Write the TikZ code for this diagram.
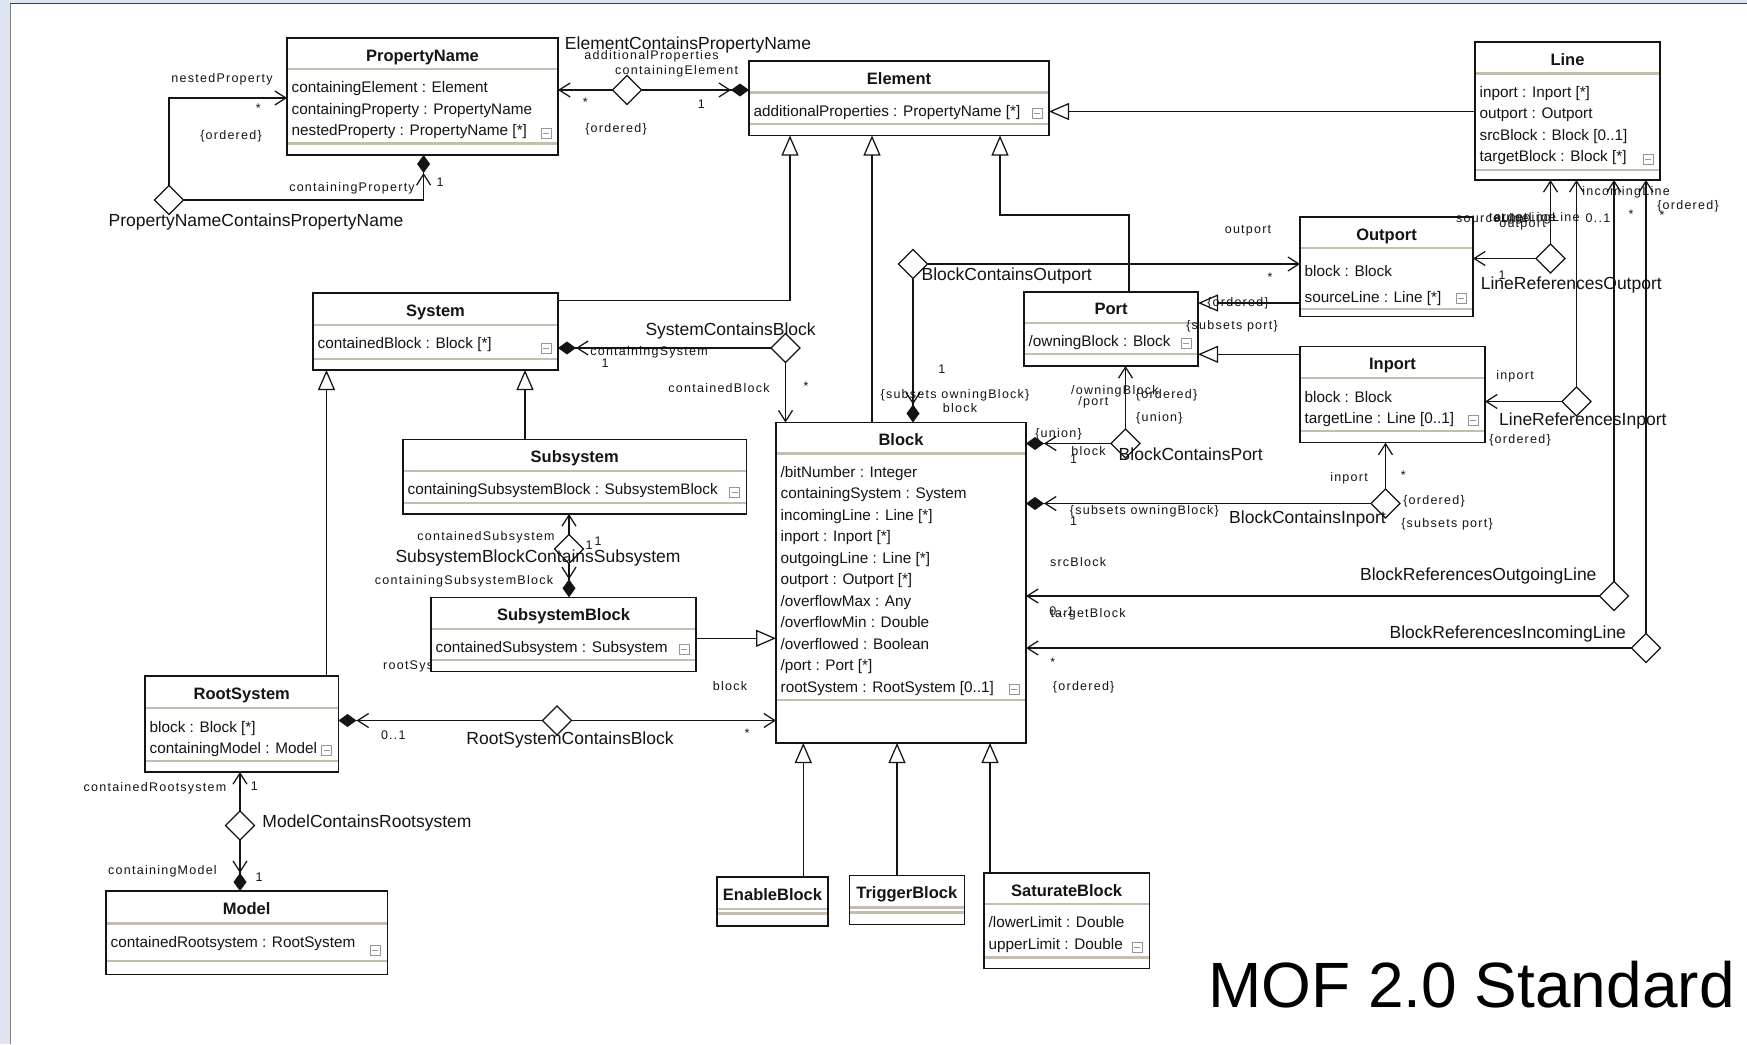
\documentclass[tikz,border=0pt]{standalone}
\usepackage{fontspec}
\setmainfont{Liberation Sans}
\newfontfamily\rolefont[LetterSpace=10]{Liberation Sans}
\usetikzlibrary{arrows.meta,shapes.geometric}

\definecolor{bgblue}{RGB}{222,228,240}
\definecolor{framec}{RGB}{60,64,72}
\definecolor{sepc}{RGB}{196,189,176}
\definecolor{iconc}{RGB}{150,150,150}
\definecolor{ink}{RGB}{20,20,20}

\newcommand\clsrowgap{21.5}
\newcommand\clsfirstgap{18.5}

% small collapse box drawn at the end of an attribute compartment
\newcommand\collapseicon[2]{%
  \draw[iconbox] ({#1-5},{#2-5}) rectangle ({#1+5},{#2+5});
  \draw[draw=iconc, line width=0.9pt] ({#1-3},{#2}) -- ({#1+3},{#2});
}

% class box: name, left, top, right, bottom, header rule, operation rule, title, attributes
\newcommand\umlclass[9]{%
  \node[classbox, minimum width={(#4-#2)*1pt}, minimum height={(#5-#3)*1pt}] (#1) at (#2,#3) {};
  \draw[sepline] ({#2+0.8},{#6}) -- ({#4-0.8},{#6});
  \draw[sepline] ({#2+0.8},{#7}) -- ({#4-0.8},{#7});
  \node[classtitle] at ({(#2+#4)/2},{(#3+#6)/2+7.5}) {#8};
  \foreach \a [count=\i from 0] in {#9} {
    \node[attr] at ({#2+4.5},{#6+\clsfirstgap+5.3+\clsrowgap*\i}) {\a};
  }
  \collapseicon{#4-12}{#7-10.5}
}

% class box without attributes
\newcommand\umlempty[8]{%
  \node[classbox, minimum width={(#4-#2)*1pt}, minimum height={(#5-#3)*1pt}] (#1) at (#2,#3) {};
  \draw[sepline] ({#2+0.8},{#6}) -- ({#4-0.8},{#6});
  \draw[sepline] ({#2+0.8},{#7}) -- ({#4-0.8},{#7});
  \node[classtitle] at ({(#2+#4)/2},{(#3+#6)/2+7.5}) {#8};
}

\tikzset{
  classbox/.style={draw=ink, line width=1.5pt, fill=white, inner sep=0pt, outer sep=0pt, anchor=north west},
  sepline/.style={draw=sepc, line width=2.2pt},
  classtitle/.style={font=\fontsize{16.5}{18}\selectfont\bfseries, anchor=base, inner sep=0pt, text=ink},
  attr/.style={font=\fontsize{15.3}{18}\selectfont, anchor=base west, inner sep=0pt, text=ink},
  assoc/.style={shape=diamond, draw=ink, fill=white, line width=1.2pt, minimum width=29pt, minimum height=29pt, inner sep=0pt, outer sep=0pt},
  conn/.style={draw=ink, line width=1.25pt},
  nav/.style={conn, -{Straight Barb[length=11pt,width=14pt]}},
  comp/.style={conn, -{Straight Barb[length=11pt,width=14pt]Diamond[length=18pt,width=13pt]}},
  gen/.style={conn, line join=miter, -{Triangle[length=20pt,width=17pt,fill=white]}},
  lbl/.style={font=\rolefont\fontsize{12.5}{14}\selectfont, inner sep=0pt, text=ink},
  aname/.style={font=\fontsize{17.5}{20}\selectfont, inner sep=0pt, text=ink},
  iconbox/.style={draw=iconc, fill=white, line width=0.8pt},
}

\begin{document}
\begin{tikzpicture}[x=1pt,y=-1pt]
\useasboundingbox (0,0) rectangle (1747,1044);

% window frame
\fill[bgblue] (0,0) rectangle (1747,1044);
\fill[white] (10,4) rectangle (1747,1044);
\draw[framec, line width=1.6pt] (10,3.5) -- (1747,3.5);
\draw[gray, line width=1pt] (10,3.5) -- (10,1044);

% role name partly hidden behind SubsystemBlock
\node[lbl, anchor=west] at (383,666.7) {rootSystem};

% ---------------- classes ----------------
\umlclass{PropertyName}{287}{38}{558}{155}{69}{143.5}{PropertyName}{containingElement : Element, containingProperty : PropertyName, nestedProperty : PropertyName [*]}
\umlclass{Element}{749}{61}{1049}{135.5}{92.5}{124}{Element}{additionalProperties : PropertyName [*]}
\umlclass{Line}{1475}{42}{1660}{180}{73.5}{170}{Line}{inport : Inport [*], outport : Outport, srcBlock : Block [0..1], targetBlock : Block [*]}
\renewcommand\clsrowgap{26}\renewcommand\clsfirstgap{22.7}
\umlclass{Outport}{1300}{217}{1473}{316.5}{248}{309}{Outport}{block : Block, sourceLine : Line [*]}
\renewcommand\clsrowgap{21.5}\renewcommand\clsfirstgap{18.5}
\umlclass{Port}{1024}{292}{1198}{366}{322.7}{354.3}{Port}{/owningBlock : Block}
\umlclass{Inport}{1300}{346.5}{1485}{442.7}{378.3}{430.7}{Inport}{block : Block, targetLine : Line [0..1]}
\umlclass{System}{313}{293}{558}{370}{325}{359.3}{System}{containedBlock : Block [*]}
\umlclass{Subsystem}{403}{439.3}{746.5}{514}{471}{503.3}{Subsystem}{containingSubsystemBlock : SubsystemBlock}
\umlclass{SubsystemBlock}{431}{597.3}{696}{671.7}{629}{660}{SubsystemBlock}{containedSubsystem : Subsystem}
\umlclass{Block}{776}{422.5}{1026}{743}{453.5}{700}{Block}{/bitNumber : Integer, containingSystem : System, incomingLine : Line [*], inport : Inport [*], outgoingLine : Line [*], outport : Outport [*], /overflowMax : Any, /overflowMin : Double, /overflowed : Boolean, /port : Port [*], rootSystem : RootSystem [0..1]}
\umlclass{RootSystem}{145}{676}{338.5}{772}{708.3}{760.7}{RootSystem}{block : Block [*], containingModel : Model}
\umlclass{Model}{106}{891}{387.3}{974.3}{923.5}{961}{Model}{containedRootsystem : RootSystem}
\umlempty{EnableBlock}{717}{877}{828}{926}{909}{913.5}{EnableBlock}
\umlempty{TriggerBlock}{849.3}{875.3}{964.3}{924.3}{907.5}{912.5}{TriggerBlock}
\umlclass{SaturateBlock}{984}{873}{1149.3}{968.7}{904}{957.5}{SaturateBlock}{/lowerLimit : Double, upperLimit : Double}

% ---------------- generalizations ----------------
\draw[gen] (Line.west |- 0,111.5) -- (Element.east |- 0,111.5);
\draw[gen] (System.east |- 0,300.5) -| (Element.south -| 790,0);
\draw[gen] (Block.north -| 872,0) -- (Element.south -| 872,0);
\draw[gen] (Port.north -| 1129,0) |- (1000,215) -- (Element.south -| 1000,0);
\draw[gen] (RootSystem.north -| 326.5,0) -- (System.south -| 326.5,0);
\draw[gen] (Subsystem.north -| 525,0) -- (System.south -| 525,0);
\draw[gen] (Outport.west |- 0,303) -- (Port.east |- 0,303);
\draw[gen] (Inport.west |- 0,354.3) -- (Port.east |- 0,354.3);
\draw[gen] (SubsystemBlock.east |- 0,638.3) -- (Block.west |- 0,638.3);
\draw[gen] (EnableBlock.north -| 803.3,0) -- (Block.south -| 803.3,0);
\draw[gen] (TriggerBlock.north -| 897,0) -- (Block.south -| 897,0);
\draw[gen] (SaturateBlock.north -| 990,0) -- (Block.south -| 990,0);

% ---------------- associations ----------------
\node[assoc] (pnpn) at (169,200) {};
\draw[nav] (pnpn.north) |- (PropertyName.west |- 0,98);
\draw[comp] (pnpn.east) -| (PropertyName.south -| 423.6,0);

\node[assoc] (ecpn) at (627,90) {};
\draw[nav] (ecpn.west) -- (PropertyName.east |- ecpn.west);
\draw[comp] (ecpn.east) -- (Element.west |- ecpn.east);

\node[assoc] (scb) at (785.5,348) {};
\draw[comp] (scb.west) -- (System.east |- scb.west);
\draw[nav] (scb.south) -- (Block.north -| scb.south);

\node[assoc] (bco) at (913,264) {};
\draw[nav] (bco.east) -- (Outport.west |- bco.east);
\draw[comp] (bco.south) -- (Block.north -| bco.south);

\node[assoc] (bcp) at (1125.5,443.5) {};
\draw[nav] (bcp.north) -- (Port.south -| bcp.north);
\draw[comp] (bcp.west) -- (Block.east |- bcp.west);

\node[assoc] (bci) at (1385.5,503.5) {};
\draw[nav] (bci.north) -- (Inport.south -| bci.north);
\draw[comp] (bci.west) -- (Block.east |- bci.west);

\node[assoc] (lro) at (1550.5,258.5) {};
\draw[nav] (lro.west) -- (Outport.east |- lro.west);
\draw[nav] (lro.north) -- (Line.south -| lro.north);

\node[assoc] (lri) at (1576.5,401.5) {};
\draw[nav] (lri.west) -- (Inport.east |- lri.west);
\draw[nav] (lri.north) -- (Line.south -| lri.north);

\node[assoc] (bro) at (1614,596) {};
\draw[nav] (bro.west) -- (Block.east |- bro.west);
\draw[nav] (bro.north) -- (Line.south -| bro.north);

\node[assoc] (bri) at (1646,648) {};
\draw[nav] (bri.west) -- (Block.east |- bri.west);
\draw[nav] (bri.north) -- (Line.south -| bri.north);

\node[assoc] (sbcs) at (569,549) {};
\draw[nav] (sbcs.north) -- (Subsystem.south -| sbcs.north);
\draw[comp] (sbcs.south) -- (SubsystemBlock.north -| sbcs.south);

\node[assoc] (rscb) at (557,720.5) {};
\draw[comp] (rscb.west) -- (RootSystem.east |- rscb.west);
\draw[nav] (rscb.east) -- (Block.west |- rscb.east);

\node[assoc] (mcr) at (240,825.5) {};
\draw[nav] (mcr.north) -- (RootSystem.south -| mcr.north);
\draw[comp] (mcr.south) -- (Model.north -| mcr.south);

% ---------------- labels ----------------
\node[lbl] at (222,79.3) {nestedProperty};
\node[lbl] at (258.3,108.3) {*};
\node[lbl] at (231,136) {\{ordered\}};
\node[lbl] at (352,188.3) {containingProperty};
\node[lbl] at (440,181.7) {1};
\node[aname] at (256,221.7) {PropertyNameContainsPropertyName};

\node[aname] at (688,45) {ElementContainsPropertyName};
\node[lbl] at (651.6,56) {additionalProperties};
\node[lbl] at (676.6,71.7) {containingElement};
\node[lbl] at (585.4,101.7) {*};
\node[lbl] at (701.4,104) {1};
\node[lbl] at (616,129.3) {\{ordered\}};

\node[aname] at (730.6,330.7) {SystemContainsBlock};
\node[lbl] at (649,352.7) {containingSystem};
\node[lbl] at (605,363.3) {1};
\node[lbl] at (719,388.3) {containedBlock};
\node[lbl] at (806,385.7) {*};

\node[aname] at (1006.7,276) {BlockContainsOutport};
\node[lbl] at (1248,230.7) {outport};
\node[lbl] at (1270,277) {*};
\node[lbl] at (941.8,369.3) {1};
\node[lbl] at (955,395.7) {\{subsets owningBlock\}};
\node[lbl] at (960,408) {block};

\node[lbl] at (1238,303.5) {\{ordered\}};
\node[lbl] at (1232,326.5) {\{subsets port\}};

\node[lbl] at (1114.8,391.7) {/owningBlock};
\node[lbl] at (1093.4,402.7) {/port};
\node[lbl] at (1166.6,395) {\{ordered\}};
\node[lbl] at (1159.4,418.3) {\{union\}};
\node[lbl] at (1058.5,434) {\{union\}};
\node[lbl] at (1088.4,451.5) {block};
\node[lbl] at (1073.5,459.3) {1};
\node[aname] at (1190.7,454) {BlockContainsPort};

\node[lbl] at (1349,478.3) {inport};
\node[lbl] at (1403.3,475) {*};
\node[lbl] at (1434,501.7) {\{ordered\}};
\node[lbl] at (1447,524.3) {\{subsets port\}};
\node[lbl] at (1144.3,511.7) {\{subsets owningBlock\}};
\node[lbl] at (1073.5,520.7) {1};
\node[aname] at (1307.5,519) {BlockContainsInport};

\node[lbl] at (1502,275) {1};
\node[aname] at (1571.3,285) {LineReferencesOutport};

\node[lbl] at (1515,376.7) {inport};
\node[lbl] at (1520,440) {\{ordered\}};
\node[aname] at (1582.8,420.7) {LineReferencesInport};

\node[lbl] at (1078,561.7) {srcBlock};
\node[lbl] at (1061.7,611) {0..1};
\node[aname] at (1478.3,576) {BlockReferencesOutgoingLine};

\node[lbl] at (1088,614.3) {targetBlock};
\node[lbl] at (1052.7,661.7) {*};
\node[lbl] at (1083.7,687.7) {\{ordered\}};
\node[aname] at (1507.8,634) {BlockReferencesIncomingLine};

\node[lbl, anchor=west] at (1456,218) {sourceLine};
\node[lbl, anchor=west] at (1489,218) {targetLine};
\node[lbl, anchor=west] at (1494,218) {outgoingLine};
\node[lbl] at (1522.5,225) {outport};
\node[lbl] at (1598,218) {0..1};
\node[lbl] at (1631,214) {*};
\node[lbl] at (1662,215) {*};
\node[lbl] at (1626,192) {incomingLine};
\node[lbl] at (1688,206) {\{ordered\}};

\node[lbl] at (486,537.3) {containedSubsystem};
\node[lbl] at (589,545) {1};
\node[lbl] at (598,541) {1};
\node[aname] at (538,558.3) {SubsystemBlockContainsSubsystem};
\node[lbl] at (464,581.7) {containingSubsystemBlock};

\node[lbl] at (393.3,735) {0..1};
\node[aname] at (570,740) {RootSystemContainsBlock};
\node[lbl] at (730,685.7) {block};
\node[lbl] at (747,733) {*};

\node[lbl] at (155,788.3) {containedRootsystem};
\node[lbl] at (254.3,785.7) {1};
\node[aname] at (367,823.3) {ModelContainsRootsystem};
\node[lbl] at (162.5,871.7) {containingModel};
\node[lbl] at (259,876.7) {1};

\node[anchor=base west, inner sep=0pt, font=\fontsize{64}{64}\selectfont] (mof) at (1208,1007.5) {MOF 2.0 Standard};
\end{tikzpicture}
\end{document}
